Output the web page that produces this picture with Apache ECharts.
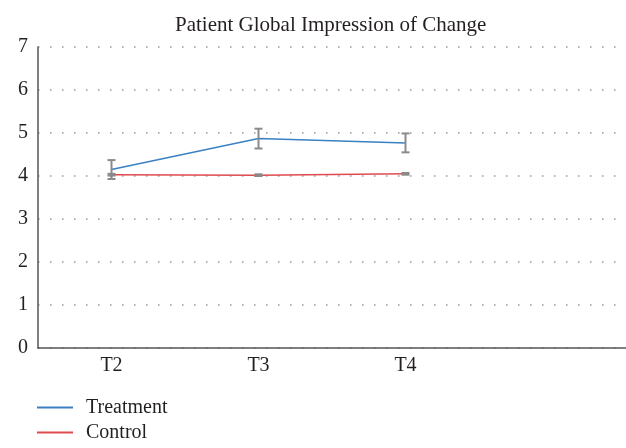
<!DOCTYPE html>
<html>
<head>
<meta charset="utf-8">
<script src="https://cdn.jsdelivr.net/npm/echarts@6/dist/echarts.min.js"></script>
<style>
  html, body { margin: 0; padding: 0; background: #fff; }
  #chart { width: 626px; height: 448px; }
</style>
</head>
<body>
<div id="chart"></div>
<script>
// data
const categories = ['T2', 'T3', 'T4', ''];
const treatment = [4.15, 4.87, 4.77];
const treatmentErr = [0.22, 0.23, 0.22];
const control = [4.03, 4.02, 4.05];
const controlErr = [0.02, 0.02, 0.02];
const yTicks = [0, 1, 2, 3, 4, 5, 6, 7];

const serif = '"Liberation Serif", "DejaVu Serif", serif';

function errorSeries(name, values, errs) {
  return {
    name: name + ' err',
    type: 'custom',
    z: 5,
    data: values.map((v, i) => [i, v - errs[i], v + errs[i]]),
    renderItem: (params, api) => {
      const lo = api.coord([api.value(0), api.value(1)]);
      const hi = api.coord([api.value(0), api.value(2)]);
      const w = 4;
      const style = { stroke: '#8a8a8a', lineWidth: 2 };
      return {
        type: 'group',
        children: [
          { type: 'line', shape: { x1: lo[0], y1: lo[1], x2: hi[0], y2: hi[1] }, style },
          { type: 'line', shape: { x1: lo[0] - w, y1: lo[1], x2: lo[0] + w, y2: lo[1] }, style },
          { type: 'line', shape: { x1: hi[0] - w, y1: hi[1], x2: hi[0] + w, y2: hi[1] }, style }
        ]
      };
    }
  };
}

const chart = echarts.init(document.getElementById('chart'));
chart.setOption({
  animation: false,
  title: {
    text: 'Patient Global Impression of Change',
    left: 175,
    top: 10,
    padding: [5, 0, 5, 0],
    textStyle: { fontFamily: serif, fontSize: 21, fontWeight: 'normal', color: '#231f20' }
  },
  grid: { left: 38, right: 0, top: 47, bottom: 100, containLabel: false },
  legend: {
    orient: 'vertical',
    left: 37,
    top: 397,
    height: 60,
    padding: 0,
    itemGap: 4,
    itemWidth: 36,
    itemHeight: 2,
    icon: 'rect',
    data: ['Treatment', 'Control'],
    textStyle: { fontFamily: serif, fontSize: 20, lineHeight: 21, color: '#231f20', padding: [0, 0, 0, 8] }
  },
  xAxis: {
    type: 'category',
    data: categories,
    boundaryGap: true,
    axisLine: { lineStyle: { color: '#555', width: 1.5 } },
    axisTick: { show: false },
    axisLabel: { fontFamily: serif, fontSize: 20, color: '#231f20', margin: 8 }
  },
  yAxis: {
    type: 'value',
    min: yTicks[0],
    max: yTicks[yTicks.length - 1],
    interval: 1,
    axisLine: { show: true, lineStyle: { color: '#555', width: 1.5 } },
    axisTick: { show: false },
    axisLabel: { fontFamily: serif, fontSize: 20, color: '#231f20', margin: 10 },
    splitLine: { lineStyle: { color: '#999', width: 1.5, type: [1.5, 10.5] } }
  },
  series: [
    {
      name: 'Treatment',
      type: 'line',
      data: treatment,
      symbol: 'none',
      lineStyle: { color: '#3a80c3', width: 1.5 },
      itemStyle: { color: '#3a80c3' },
      z: 3
    },
    {
      name: 'Control',
      type: 'line',
      data: control,
      symbol: 'none',
      lineStyle: { color: '#e04a4f', width: 1.5 },
      itemStyle: { color: '#e04a4f' },
      z: 3
    },
    errorSeries('Treatment', treatment, treatmentErr),
    errorSeries('Control', control, controlErr)
  ]
});
</script>
</body>
</html>
